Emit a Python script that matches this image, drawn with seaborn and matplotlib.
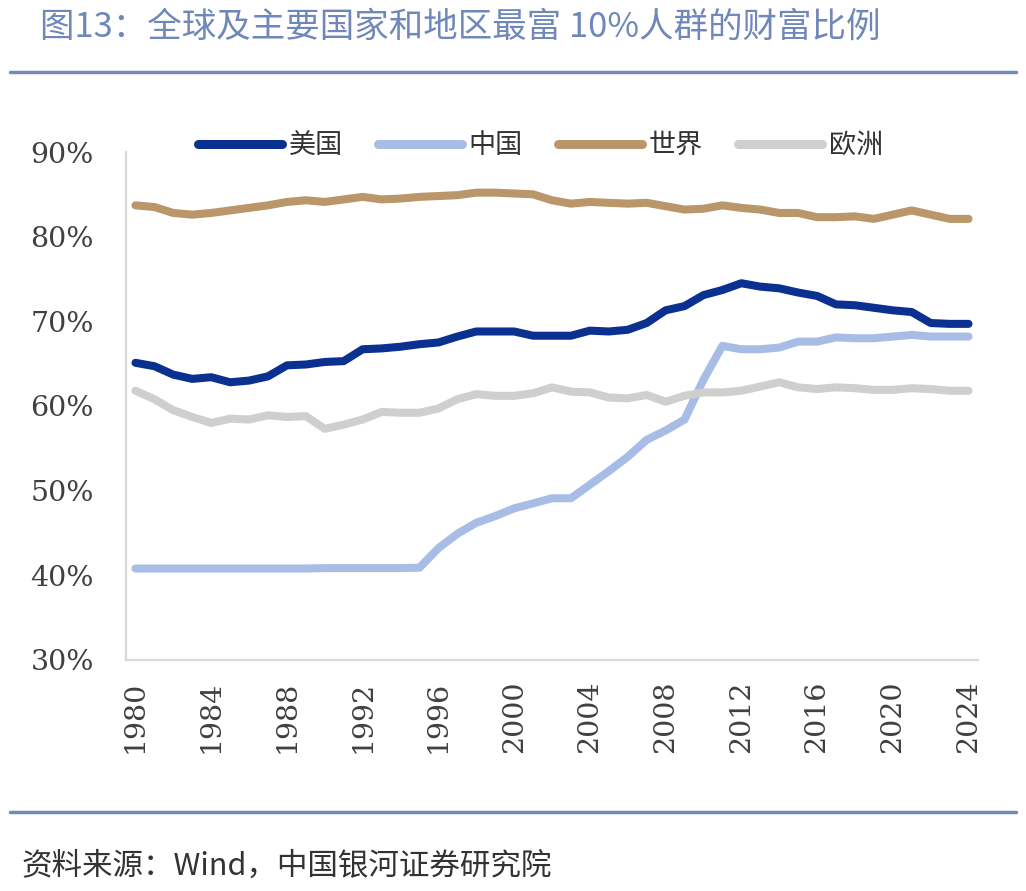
import numpy as np
import pandas as pd
import matplotlib
matplotlib.use("Agg")
import matplotlib.pyplot as plt
from matplotlib.lines import Line2D
from matplotlib.ticker import FuncFormatter
import seaborn as sns

# values (top 10% wealth share, %)
years = list(range(1980, 2025))
usa = [65.1, 64.7, 63.7, 63.2, 63.4, 62.8, 63.0, 63.5, 64.8, 64.9,
       65.2, 65.3, 66.7, 66.8, 67.0, 67.3, 67.5, 68.2, 68.8, 68.8,
       68.8, 68.3, 68.3, 68.3, 68.9, 68.8, 69.0, 69.8, 71.3, 71.8,
       73.1, 73.7, 74.5, 74.1, 73.9, 73.4, 73.0, 72.0, 71.9, 71.6,
       71.3, 71.1, 69.8, 69.7, 69.7]
china = [40.8, 40.8, 40.8, 40.8, 40.8, 40.8, 40.8, 40.8, 40.8, 40.8,
         40.85, 40.85, 40.85, 40.85, 40.85, 40.9, 43.2, 44.9, 46.2, 47.0,
         47.9, 48.5, 49.1, 49.1, 50.7, 52.3, 54.0, 56.0, 57.1, 58.4,
         63.1, 67.1, 66.7, 66.7, 66.9, 67.6, 67.6, 68.1, 68.0, 68.0,
         68.2, 68.4, 68.2, 68.2, 68.2]
world = [83.7, 83.5, 82.8, 82.6, 82.8, 83.1, 83.4, 83.7, 84.1, 84.3,
         84.1, 84.4, 84.7, 84.4, 84.5, 84.7, 84.8, 84.9, 85.2, 85.2,
         85.1, 85.0, 84.3, 83.9, 84.1, 84.0, 83.9, 84.0, 83.6, 83.2,
         83.3, 83.7, 83.4, 83.2, 82.8, 82.8, 82.3, 82.3, 82.4, 82.1,
         82.6, 83.1, 82.6, 82.1, 82.1]
europe = [61.8, 60.8, 59.5, 58.7, 58.0, 58.5, 58.4, 58.9, 58.7, 58.8,
          57.3, 57.8, 58.4, 59.3, 59.2, 59.2, 59.7, 60.8, 61.4, 61.2,
          61.2, 61.5, 62.2, 61.7, 61.6, 61.0, 60.9, 61.3, 60.5, 61.2,
          61.6, 61.6, 61.8, 62.3, 62.8, 62.2, 62.0, 62.2, 62.1, 61.9,
          61.9, 62.1, 62.0, 61.8, 61.8]
series_names = ["美国", "中国", "世界", "欧洲"]
colors = ["#0B3190", "#A8BDE6", "#B9976A", "#D0CECE"]
xtick_years = list(range(1980, 2025, 4))
yticks = [30, 40, 50, 60, 70, 80, 90]

df = pd.DataFrame({"year": years, "美国": usa, "中国": china,
                   "世界": world, "欧洲": europe})
long_df = df.melt(id_vars="year", var_name="region", value_name="share")

sns.set_style("white")
plt.rcParams["font.family"] = ["Noto Sans CJK SC", "DejaVu Sans"]

fig = plt.figure(figsize=(10.26, 8.91), dpi=100)
ax = fig.add_axes([0.1228, 0.2593, 0.8304, 0.5701])

sns.lineplot(data=long_df, x="year", y="share", hue="region",
             hue_order=series_names, palette=colors, linewidth=5.8,
             ax=ax, legend=False)
for ln in ax.get_lines():
    ln.set_solid_capstyle("round")
    ln.set_solid_joinstyle("round")

ax.set_xlim(1979.5, 2024.5)
ax.set_ylim(30, 90)
ax.set_xticks(xtick_years)
ax.set_yticks(yticks)
ax.yaxis.set_major_formatter(FuncFormatter(lambda v, p: f"{v:.0f}%"))
ax.set_xlabel("")
ax.set_ylabel("")
ax.tick_params(axis="both", length=0, labelsize=20.5, labelcolor="#404040")
ax.tick_params(axis="y", pad=23)
ax.tick_params(axis="x", pad=15)
for lab in ax.get_xticklabels():
    lab.set_rotation(90)
    lab.set_family("DejaVu Serif")
for lab in ax.get_yticklabels():
    lab.set_family("DejaVu Serif")

for side in ["top", "right"]:
    ax.spines[side].set_visible(False)
for side in ["left", "bottom"]:
    ax.spines[side].set_color("#D9D9D9")
    ax.spines[side].set_linewidth(1.6)

handles = [Line2D([0], [0], color=c, linewidth=6.5, solid_capstyle="round")
           for c in colors]
fig.legend(handles, series_names, loc="center",
           bbox_to_anchor=(0.527, 0.8365), ncol=4, frameon=False,
           fontsize=19.5, handlelength=3.1, handletextpad=0.25,
           columnspacing=1.3, labelcolor="#333333")

# title, rules and source note
fig.text(0.039, 0.970, "图13：全球及主要国家和地区最富 10%人群的财富比例",
         fontsize=24.8, color="#6F87B9", va="center", ha="left")
fig.add_artist(Line2D([0.01, 0.99], [1 - 72 / 891, 1 - 72 / 891],
                      color="#7489BA", linewidth=2.5))
fig.add_artist(Line2D([0.01, 0.99], [1 - 812 / 891, 1 - 812 / 891],
                      color="#7489BA", linewidth=2.5))
fig.text(0.021, 1 - 866 / 891, "资料来源：Wind，中国银河证券研究院",
         fontsize=22, color="#333333", va="center", ha="left",
         style="italic")

fig.savefig("out.png", dpi=100)
